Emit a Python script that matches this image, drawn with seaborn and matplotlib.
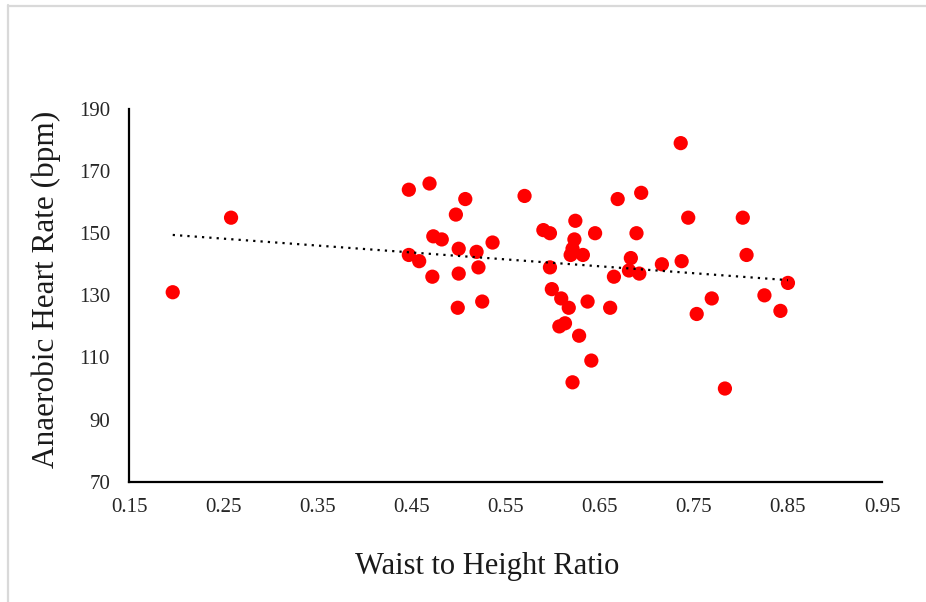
import matplotlib
matplotlib.use("Agg")
import matplotlib.pyplot as plt
from matplotlib.lines import Line2D
import seaborn as sns
import pandas as pd

# Waist-to-height ratio and anaerobic heart rate per participant
waist_to_height = [
    0.196, 0.258,
    0.447, 0.469, 0.507, 0.497, 0.473, 0.482, 0.500, 0.519, 0.536, 0.447,
    0.458, 0.521, 0.472, 0.500, 0.499, 0.525,
    0.570, 0.590, 0.597, 0.624, 0.623, 0.621, 0.619, 0.632, 0.645, 0.597,
    0.599, 0.609, 0.617, 0.637, 0.607, 0.613, 0.628, 0.641, 0.621,
    0.669, 0.694, 0.689, 0.683, 0.681, 0.692, 0.665, 0.661,
    0.736, 0.744, 0.802, 0.806, 0.716, 0.737, 0.850, 0.825, 0.769, 0.753,
    0.842, 0.783,
]
heart_rate = [
    131, 155,
    164, 166, 161, 156, 149, 148, 145, 144, 147, 143,
    141, 139, 136, 137, 126, 128,
    162, 151, 150, 154, 148, 145, 143, 143, 150, 139,
    132, 129, 126, 128, 120, 121, 117, 109, 102,
    161, 163, 150, 142, 138, 137, 136, 126,
    179, 155, 155, 143, 140, 141, 134, 130, 129, 124,
    125, 100,
]

x_ticks = [0.15, 0.25, 0.35, 0.45, 0.55, 0.65, 0.75, 0.85, 0.95]
y_ticks = [70, 90, 110, 130, 150, 170, 190]

df = pd.DataFrame({"ratio": waist_to_height, "hr": heart_rate})

sns.set_style("white")
plt.rcParams["font.family"] = ["Liberation Serif", "DejaVu Serif"]

fig = plt.figure(figsize=(9.26, 6.02), dpi=100)
ax = fig.add_axes([0.1398, 0.1998, 0.8127, 0.6192])

sns.scatterplot(data=df, x="ratio", y="hr", ax=ax, color="#ff0000",
                s=105, edgecolor="none", linewidth=0, zorder=3)
sns.regplot(data=df, x="ratio", y="hr", ax=ax, scatter=False, ci=None,
            truncate=True,
            line_kws=dict(color="black", lw=1.6, linestyle=(0, (1, 2.3)),
                          zorder=4))

ax.set_xlim(0.15, 0.95)
ax.set_ylim(70, 190)
ax.set_xticks(x_ticks)
ax.set_xticklabels([f"{t:.2f}" for t in x_ticks])
ax.set_yticks(y_ticks)
ax.set_yticklabels([str(t) for t in y_ticks])
ax.tick_params(axis="both", length=0, labelsize=15, colors="#262626")
ax.tick_params(axis="x", pad=12)
ax.tick_params(axis="y", pad=14)

for side in ("top", "right"):
    ax.spines[side].set_visible(False)
for side in ("left", "bottom"):
    ax.spines[side].set_color("black")
    ax.spines[side].set_linewidth(1.6)

ax.set_xlabel("Waist to Height Ratio", fontsize=22, color="#1a1a1a", labelpad=25)
ax.set_ylabel("Anaerobic Heart Rate (bpm)", fontsize=22.5, color="#1a1a1a", labelpad=13)
ax.xaxis.label.set_x(0.475)
ax.yaxis.label.set_y(0.515)

# thin frame along the top and left edges of the canvas
fig.add_artist(Line2D([8 / 926, 8 / 926], [0, 1 - 5 / 602],
                      transform=fig.transFigure, color="#d9d9d9", lw=1.6))
fig.add_artist(Line2D([8 / 926, 1], [1 - 6 / 602, 1 - 6 / 602],
                      transform=fig.transFigure, color="#d9d9d9", lw=1.6))

fig.savefig("out.png", dpi=100, facecolor="white")
